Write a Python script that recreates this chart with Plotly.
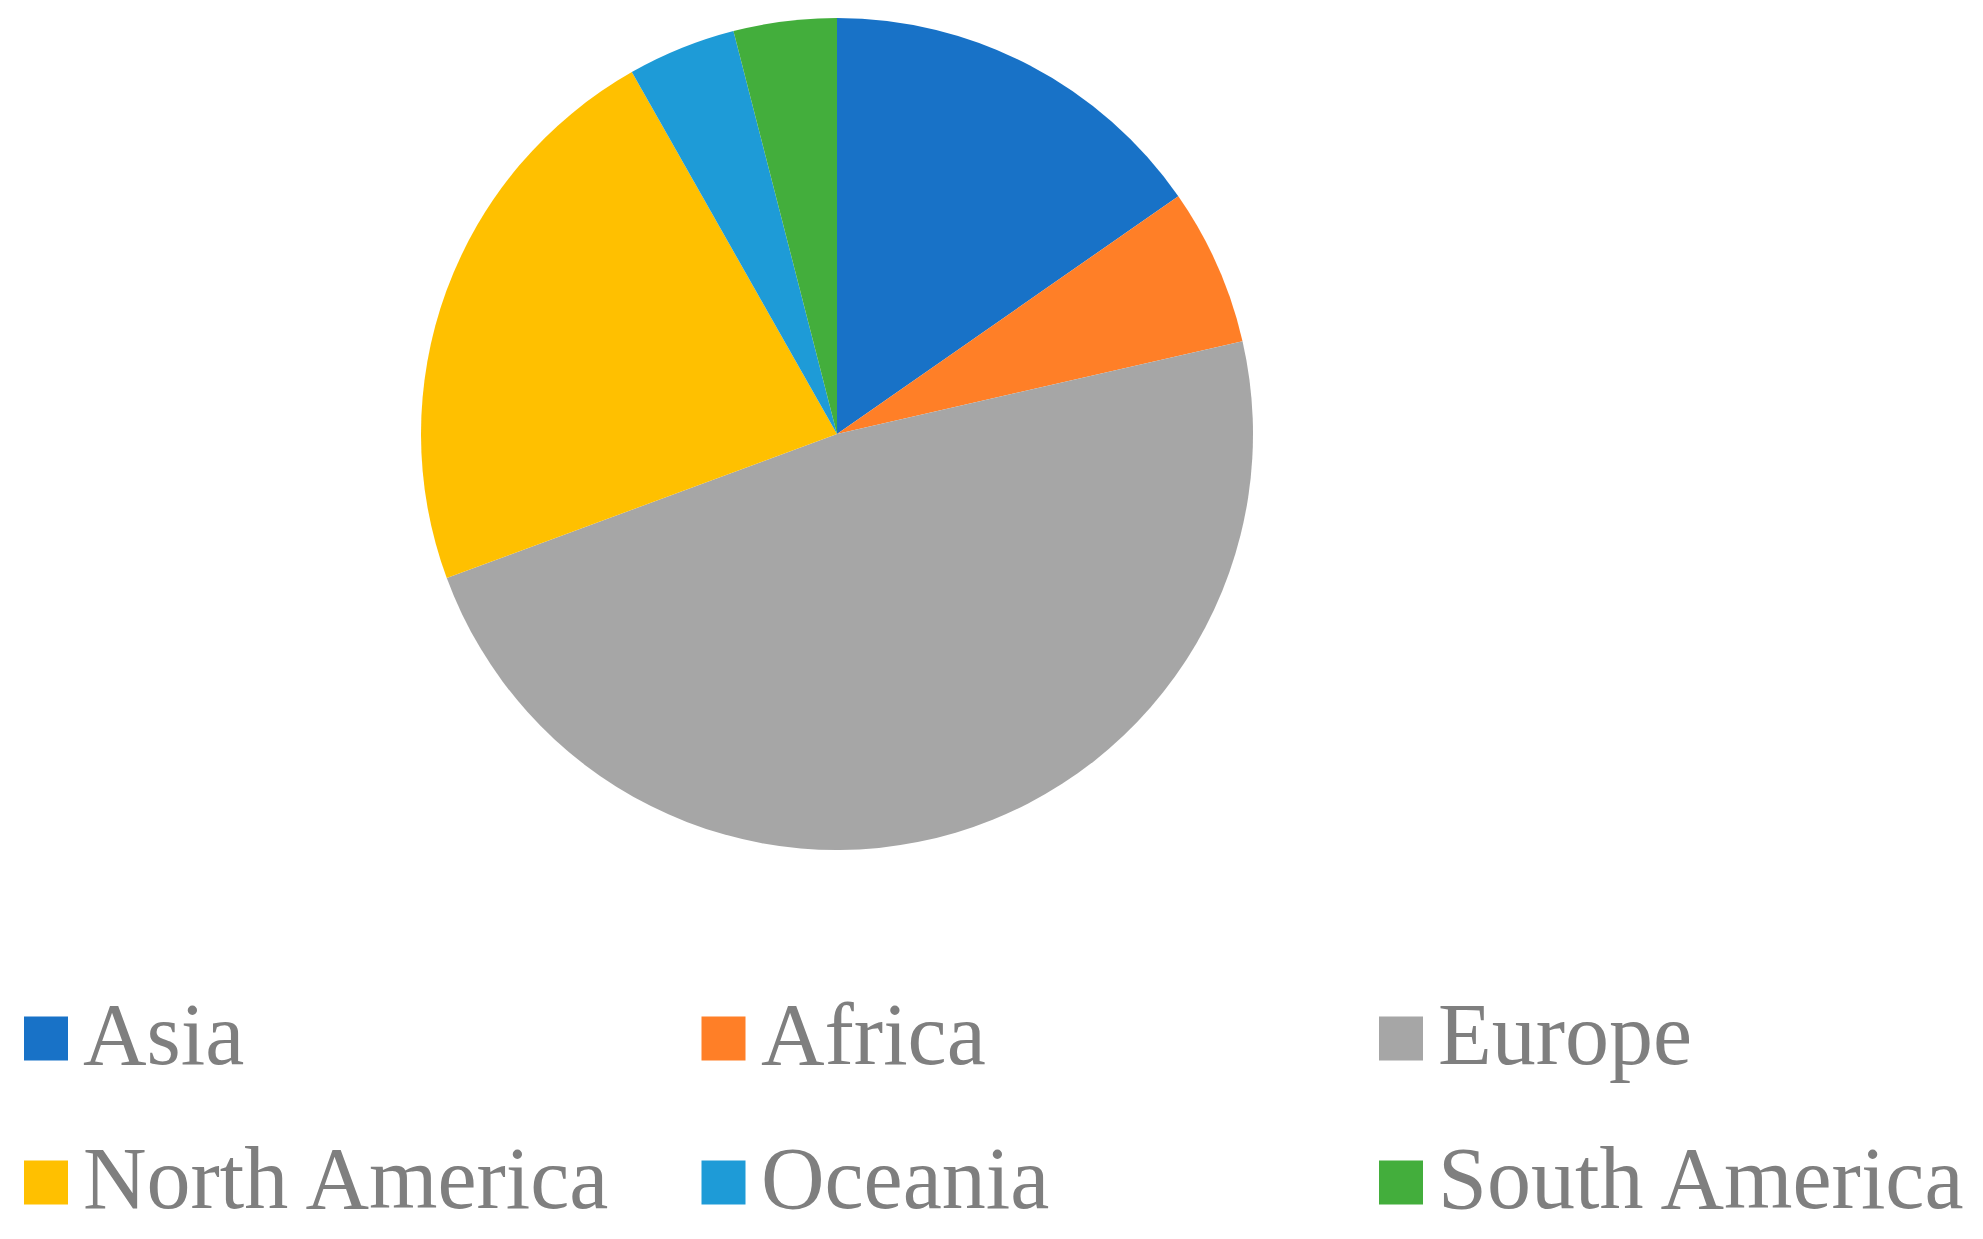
import plotly.graph_objects as go

# share of entries by continent
continents = ["Asia", "Africa", "Europe", "North America", "Oceania", "South America"]
shares = [15.3, 6.1, 47.9, 22.4, 4.2, 4.0]
colors = ["#1872C7", "#FF7F27", "#A6A6A6", "#FFC000", "#1E9BD7", "#43AE3C"]

W, H = 1983, 1239
OFF = 8  # the page body adds an 8px margin


def px_x(x):
    return (x - OFF) / W


def px_y(y):
    return 1 - (y - OFF) / H


fig = go.Figure(go.Pie(
    labels=continents,
    values=shares,
    sort=False,
    direction="clockwise",
    rotation=0,
    marker=dict(colors=colors, line=dict(width=0)),
    textinfo="none",
    hoverinfo="label+percent",
    domain=dict(x=[px_x(421), px_x(1253)], y=[px_y(850), px_y(18)]),
    showlegend=False,
))

# legend drawn by hand: 3 columns x 2 rows with big square swatches
col_x0, col_step = 24, 677.5
row_y = [1038.5, 1182.5]
sw = 44
for i, (name, c) in enumerate(zip(continents, colors)):
    x = col_x0 + (i % 3) * col_step
    yc = row_y[i // 3]
    fig.add_shape(
        type="rect", xref="paper", yref="paper",
        x0=px_x(x), x1=px_x(x + sw),
        y0=px_y(yc + sw / 2), y1=px_y(yc - sw / 2),
        fillcolor=c, line=dict(width=0),
    )
    fig.add_annotation(
        x=px_x(x + 57), y=px_y(yc - 4), xref="paper", yref="paper",
        xanchor="left", yanchor="middle", showarrow=False,
        text=name, font=dict(family="Liberation Serif", size=88, color="#7F7F7F"),
    )

fig.update_layout(
    width=W, height=H,
    margin=dict(l=0, r=0, t=0, b=0),
    paper_bgcolor="white",
    plot_bgcolor="white",
)
fig.write_html("out.html")
